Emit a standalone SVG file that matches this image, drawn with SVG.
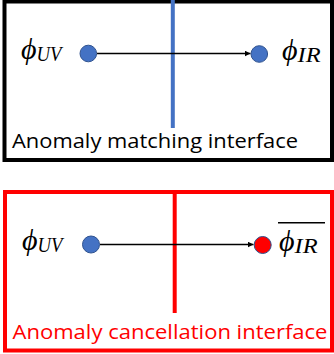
<svg xmlns="http://www.w3.org/2000/svg" width="334" height="354" viewBox="0 0 334 354">
  <defs>
    <style>
      .math { font-family: "Liberation Serif", "DejaVu Serif", serif; font-style: italic; fill: #000; }
      .phi { font-size: 30px; }
      .sub { font-size: 20px; }
      .label { font-family: "Open Sans", "Noto Sans", sans-serif; font-size: 20px; }
      .conn { stroke: #000; stroke-width: 1.3; fill: none; marker-end: url(#arr); }
      .blue { fill: #4472C4; stroke: #2F528F; stroke-width: 1; }
      .red { fill: #FF0000; stroke: #2F528F; stroke-width: 1; }
    </style>
    <marker id="arr" viewBox="0 0 10 10" refX="10" refY="5" markerWidth="6" markerHeight="6" markerUnits="userSpaceOnUse" orient="auto">
      <path d="M0,0 L10,5 L0,10 z" fill="#000"/>
    </marker>
  </defs>

  <g id="matching-panel">
    <rect x="4.5" y="1.5" width="327.5" height="158.5" fill="#fff" stroke="#000" stroke-width="4"/>
    <line x1="172.8" y1="0" x2="172.8" y2="128" stroke="#4472C4" stroke-width="4"/>
    <text class="label" x="12" y="148" textLength="286" lengthAdjust="spacingAndGlyphs" fill="#000">Anomaly matching interface</text>
  </g>

  <g id="cancellation-panel">
    <rect x="5" y="192" width="327" height="158.5" fill="#fff" stroke="#FF0000" stroke-width="4"/>
    <line x1="174.7" y1="192" x2="174.7" y2="313" stroke="#FF0000" stroke-width="4"/>
    <text class="label" x="12.5" y="339" textLength="315" lengthAdjust="spacingAndGlyphs" fill="#FF0000">Anomaly cancellation interface</text>
  </g>

  <g id="connectors">
    <line class="conn" x1="97" y1="53.5" x2="250.5" y2="53.5"/>
    <line class="conn" x1="100" y1="244.5" x2="253.5" y2="244.5"/>
  </g>

  <g id="phi-uv-top">
    <circle class="blue" cx="88.3" cy="53.5" r="8.3"/>
    <text class="math" x="21" y="59"><tspan class="phi">ϕ</tspan><tspan class="sub" dy="2" textLength="25" lengthAdjust="spacingAndGlyphs">UV</tspan></text>
  </g>

  <g id="phi-ir-top">
    <circle class="blue" cx="259.3" cy="54" r="8.3"/>
    <text class="math" x="282" y="60"><tspan class="phi">ϕ</tspan><tspan class="sub" dy="2" textLength="23" lengthAdjust="spacingAndGlyphs">IR</tspan></text>
  </g>

  <g id="phi-uv-bottom">
    <circle class="blue" cx="91" cy="244.5" r="8.5"/>
    <text class="math" x="22" y="250"><tspan class="phi">ϕ</tspan><tspan class="sub" dy="2" textLength="25" lengthAdjust="spacingAndGlyphs">UV</tspan></text>
  </g>

  <g id="phi-ir-bar-bottom">
    <circle class="red" cx="262.7" cy="245" r="8.5"/>
    <line x1="278" y1="222.7" x2="325" y2="222.7" stroke="#000" stroke-width="1.5"/>
    <text class="math" x="279" y="251"><tspan class="phi">ϕ</tspan><tspan class="sub" dy="2" textLength="23" lengthAdjust="spacingAndGlyphs">IR</tspan></text>
  </g>
</svg>
